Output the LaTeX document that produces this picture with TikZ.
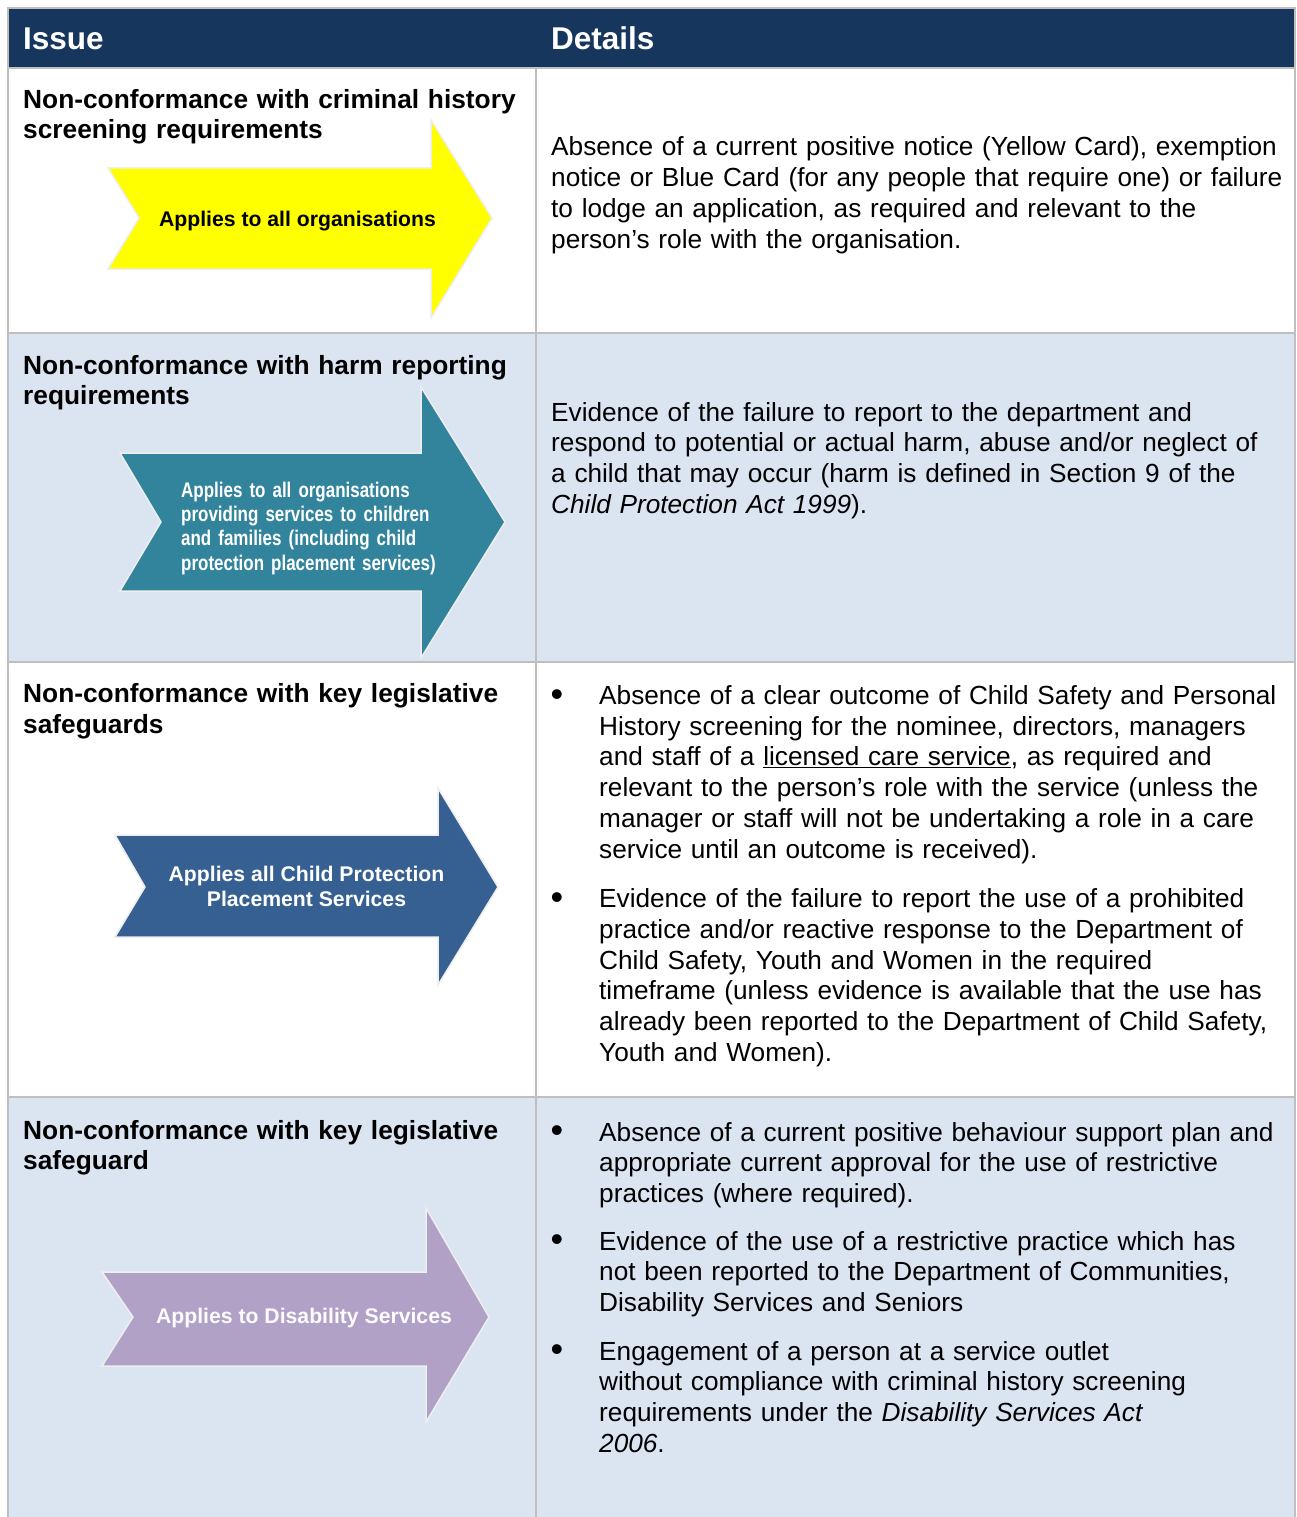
\documentclass[tikz,border=0pt]{standalone}
\usepackage{fontspec}
\setmainfont{Liberation Sans}
\newfontfamily\narrowfont[FakeStretch=0.8]{Liberation Sans}
\usepackage{tikz}
\usetikzlibrary{positioning}
\definecolor{headnavy}{HTML}{17365D}
\definecolor{rowshade}{HTML}{DBE5F1}
\definecolor{gridgray}{HTML}{BFBFBF}
\definecolor{tagyellow}{HTML}{FFFF00}
\definecolor{tagteal}{HTML}{31849B}
\definecolor{tagblue}{HTML}{376092}
\definecolor{tagpurple}{HTML}{B2A1C7}
\definecolor{tagrim}{HTML}{EEEEEE}

\begin{document}
\begin{tikzpicture}[
    x=1pt, y=-1pt,
    gridline/.style={gridgray, line width=1.6pt},
    tagarrow/.style={draw=tagrim, line width=1.5pt, line join=miter},
    headtext/.style={anchor=base west, inner sep=0, text=white,
        font=\fontsize{31.5}{36}\selectfont\bfseries},
    issuetext/.style={anchor=base west, inner sep=0, text width=560pt, align=left,
        font=\fontsize{26.3}{30.5}\selectfont\bfseries},
    detailtext/.style={anchor=base west, inner sep=0, text width=760pt, align=left,
        font=\fontsize{26.2}{30.7}\selectfont},
    bulletmark/.style={anchor=base, inner sep=0, font=\fontsize{36}{36}\selectfont},
    tagtext/.style={inner sep=0, font=\fontsize{21.2}{25}\selectfont\bfseries}
]
    \useasboundingbox (0,0) rectangle (1296,1517);

    % === BACKGROUNDS ===
    \fill[white] (0,0) rectangle (1296,1517);
    \fill[headnavy] (8,8) rectangle (1295,68);
    \fill[rowshade] (8,333) rectangle (1295,662);
    \fill[rowshade] (8,1097) rectangle (1295,1517);

    % === GRID ===
    \draw[gridline] (7,8) -- (1296,8);
    \draw[gridline] (8,68) -- (1295,68);
    \draw[gridline] (8,333) -- (1295,333);
    \draw[gridline] (8,662) -- (1295,662);
    \draw[gridline] (8,1097) -- (1295,1097);
    \draw[gridline] (8,8) -- (8,1517);
    \draw[gridline] (1295,8) -- (1295,1517);
    \draw[gridline] (536,68) -- (536,1517);

    % === HEADER ===
    \node[headtext] (issuehead) at (23,50) {Issue};
    \node[headtext] (detailhead) at (551,50) {Details};

    % === ARROW TAGS ===
    \draw[tagarrow, fill=tagyellow] (108,168) -- (431,168) -- (431,120) -- (492,218)
        -- (431,318) -- (431,269) -- (108,269) -- (139,218) -- cycle;
    \draw[tagarrow, fill=tagteal] (120,453) -- (421,453) -- (421,387) -- (505,522)
        -- (421,658) -- (421,591) -- (120,591) -- (161,522) -- cycle;
    \draw[tagarrow, fill=tagblue] (115,835) -- (438,835) -- (438,788) -- (498,887)
        -- (438,985) -- (438,937) -- (115,937) -- (145,887) -- cycle;
    \draw[tagarrow, fill=tagpurple] (102,1272) -- (426,1272) -- (426,1208) -- (489,1317)
        -- (426,1422) -- (426,1366) -- (102,1366) -- (133,1317) -- cycle;

    \node[tagtext, anchor=base] (tagall) at (297.5,226.7) {Applies to all organisations};
    \node[tagtext, anchor=base west, text=white, text width=300pt, align=left,
          font=\fontsize{21.2}{24.4}\selectfont\narrowfont\bfseries] (tagchild) at (181,497)
        {Applies to all organisations\\providing services to children\\and families (including child\\protection placement services)};
    \node[tagtext, anchor=base, text=white, align=center] (tagplace) at (306.5,906.7)
        {Applies all Child Protection\\Placement Services};
    \node[tagtext, anchor=base, text=white!96!tagpurple] (tagdis) at (304,1323.3)
        {Applies to Disability Services};

    % === ISSUE COLUMN ===
    \node[issuetext] (issue1) at (23,108.5) {Non-conformance with criminal history\\screening requirements};
    \node[issuetext] (issue2) at (23,374.3) {Non-conformance with harm reporting\\requirements};
    \node[issuetext] (issue3) at (23,702.7) {Non-conformance with key legislative\\safeguards};
    \node[issuetext] (issue4) at (23,1139.3) {Non-conformance with key legislative\\safeguard};

    % === DETAILS COLUMN ===
    \node[detailtext] (detail1) at (551,156) {Absence of a current positive notice (Yellow Card), exemption\\notice or Blue Card (for any people that require one) or failure\\to lodge an application, as required and relevant to the\\person’s role with the organisation.};
    \node[detailtext] (detail2) at (551,421) {Evidence of the failure to report to the department and\\respond to potential or actual harm, abuse and/or neglect of\\a child that may occur (harm is defined in Section 9 of the\\\textit{Child Protection Act 1999}).};

    % row 3 bullets
    \node[bulletmark] (dot3a) at (557,706) {•};
    \node[detailtext] (detail3a) at (599,704.5) {Absence of a clear outcome of Child Safety and Personal\\History screening for the nominee, directors, managers\\and staff of a \underline{licensed care service}, as required and\\relevant to the person’s role with the service (unless the\\manager or staff will not be undertaking a role in a care\\service until an outcome is received).};
    \node[bulletmark] (dot3b) at (557,909.3) {•};
    \node[detailtext] (detail3b) at (599,907.8) {Evidence of the failure to report the use of a prohibited\\practice and/or reactive response to the Department of\\Child Safety, Youth and Women in the required\\timeframe (unless evidence is available that the use has\\already been reported to the Department of Child Safety,\\Youth and Women).};

    % row 4 bullets
    \node[bulletmark] (dot4a) at (557,1142.5) {•};
    \node[detailtext] (detail4a) at (599,1141) {Absence of a current positive behaviour support plan and\\appropriate current approval for the use of restrictive\\practices (where required).};
    \node[bulletmark] (dot4b) at (557,1251.5) {•};
    \node[detailtext] (detail4b) at (599,1250) {Evidence of the use of a restrictive practice which has\\not been reported to the Department of Communities,\\Disability Services and Seniors};
    \node[bulletmark] (dot4c) at (557,1361.5) {•};
    \node[detailtext] (detail4c) at (599,1360) {Engagement of a person at a service outlet\\without compliance with criminal history screening\\requirements under the \textit{Disability Services Act}\\\textit{2006}.};
\end{tikzpicture}
\end{document}
